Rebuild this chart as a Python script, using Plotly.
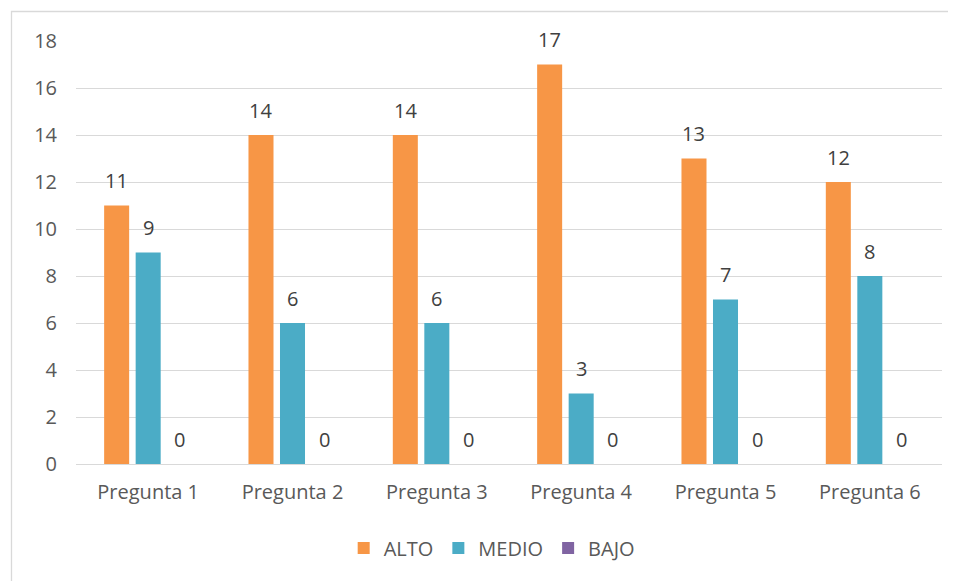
import plotly.graph_objects as go

categories = ["Pregunta 1", "Pregunta 2", "Pregunta 3", "Pregunta 4", "Pregunta 5", "Pregunta 6"]
alto = [11, 14, 14, 17, 13, 12]
medio = [9, 6, 6, 3, 7, 8]
bajo = [0, 0, 0, 0, 0, 0]
series_names = ["ALTO", "MEDIO", "BAJO"]
series_values = [alto, medio, bajo]
colors = ["#F79646", "#4BACC6", "#8064A2"]

# page has an 8px body margin
W, H = 948, 573
L, R, T, B = 68, 14, 33, 117
pw, ph = W - L - R, H - T - B

FONT = "Open Sans"

fig = go.Figure()
for name, vals, col in zip(series_names, series_values, colors):
    fig.add_trace(go.Bar(x=categories, y=vals, name=name, marker_color=col,
                         marker_line_width=0))

slot = pw / len(categories) * (1 - 0.345) / 3
for i, vals in enumerate(series_values):
    for c, v in zip(categories, vals):
        fig.add_annotation(x=c, y=v, text=str(v), showarrow=False,
                           xshift=(i - 1) * slot, yshift=25, yanchor="middle",
                           font=dict(family=FONT, size=20, color="#404040"))

# chart border
fig.add_shape(type="rect", xref="paper", yref="paper",
              x0=(3.5 - L) / pw, x1=(W + 10 - L) / pw,
              y0=(T + ph - (H + 10)) / ph, y1=(T + ph - 3.5) / ph,
              line=dict(color="#D9D9D9", width=1.3), fillcolor="rgba(0,0,0,0)", layer="below")

fig.update_layout(
    width=W, height=H,
    margin=dict(l=L, r=R, t=T, b=B),
    paper_bgcolor="white", plot_bgcolor="white",
    barmode="group", bargap=0.345, bargroupgap=0.206,
    font=dict(family=FONT, size=20, color="#595959"),
    showlegend=True,
    legend=dict(orientation="h", x=0.48, xanchor="center", y=(T + ph - 540) / ph,
                yanchor="middle", font=dict(family=FONT, size=20, color="#595959"),
                itemsizing="constant", tracegroupgap=0),
    xaxis=dict(showgrid=False, showline=False, ticks="", ticklabelstandoff=14,
               tickfont=dict(size=20, color="#595959")),
    yaxis=dict(range=[0, 18], dtick=2, showgrid=True, gridcolor="#D9D9D9", gridwidth=1,
               zeroline=True, zerolinecolor="#D9D9D9", zerolinewidth=1,
               showline=False, ticks="", ticklabelstandoff=18,
               tickfont=dict(size=20, color="#595959")),
)

fig.write_html("out.html")
